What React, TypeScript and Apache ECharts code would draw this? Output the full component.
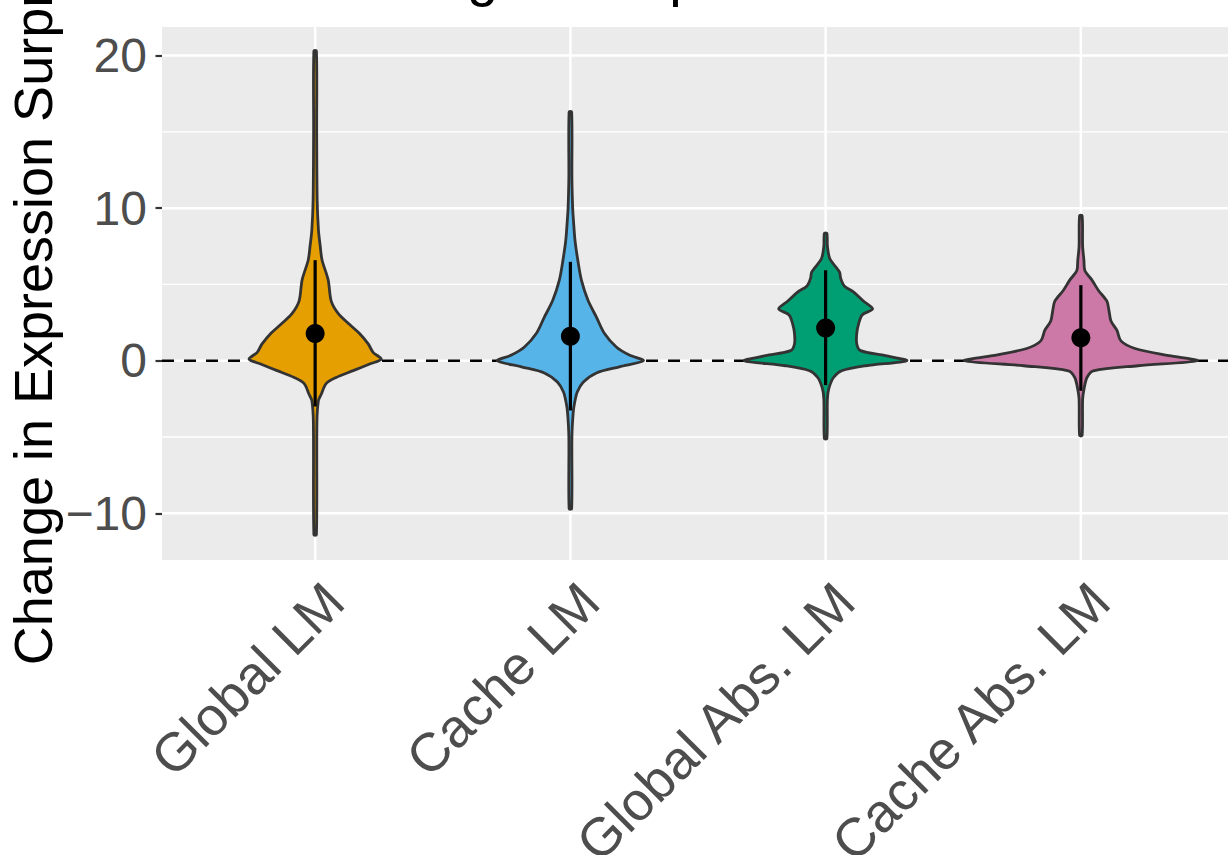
import React, { useEffect, useRef } from "react";
import * as echarts from "echarts";

const categories = ["Global LM", "Cache LM", "Global Abs. LM", "Cache Abs. LM"];
const fillColors = ["#E69F00", "#56B4E9", "#009E73", "#CC79A7"];

// violin outlines: y values (top to bottom) and half widths (x-axis units)
const globalY = [20.3, 15, 10.5, 8.55, 7.5, 6.6, 5.3, 3.9, 3.1, 2.4, 1.8, 1.1, 0.55, 0.1, -0.2, -0.65, -1.1, -1.5, -2.2, -2.6, -4, -11.4];
const globalHW = [0.005, 0.006, 0.008, 0.013, 0.02, 0.027, 0.051, 0.063, 0.09, 0.133, 0.173, 0.208, 0.227, 0.259, 0.216, 0.149, 0.082, 0.043, 0.024, 0.013, 0.007, 0.005];

const cacheY = [16.3, 12, 10, 9.2, 7.9, 6.6, 5.3, 3.96, 2.86, 1.8, 0.9, 0.37, 0.0, -0.4, -0.8, -1.4, -2.05, -2.8, -3.4, -5, -9.7];
const cacheHW = [0.005, 0.006, 0.009, 0.012, 0.018, 0.029, 0.043, 0.069, 0.102, 0.133, 0.18, 0.231, 0.286, 0.192, 0.102, 0.051, 0.027, 0.016, 0.011, 0.006, 0.005];

const globalAbsY = [8.35, 7.5, 6.7, 6.1, 5.8, 5.4, 4.9, 4.5, 3.9, 3.4, 3.0, 2.4, 1.8, 1.1, 0.66, 0.33, 0, -0.33, -0.66, -1.1, -1.8, -2.5, -5.1];
const globalAbsHW = [0.005, 0.007, 0.016, 0.042, 0.055, 0.059, 0.073, 0.11, 0.149, 0.184, 0.143, 0.129, 0.122, 0.122, 0.137, 0.235, 0.318, 0.157, 0.063, 0.031, 0.013, 0.007, 0.005];

const cacheAbsY = [9.5, 7.5, 6.6, 5.9, 5.3, 4.6, 3.9, 3.3, 2.6, 2.0, 1.3, 0.8, 0.33, 0, -0.33, -0.66, -1.1, -1.8, -2.5, -4.9];
const cacheAbsHW = [0.005, 0.007, 0.012, 0.016, 0.043, 0.069, 0.102, 0.11, 0.118, 0.141, 0.157, 0.212, 0.345, 0.455, 0.224, 0.049, 0.024, 0.013, 0.007, 0.005];

const meanValues = [1.79, 1.61, 2.15, 1.5];
const upperValues = [6.59, 6.48, 5.93, 4.95];
const lowerValues = [-3.0, -3.26, -1.6, -1.97];

const yTicks = [-10, 0, 10, 20];
const yMinorTicks = [-5, 5, 15];
const xPositions = [1, 2, 3, 4];
const X_MIN = 0.4;
const X_MAX = 4.6;
const Y_MIN = -13.06;
const Y_MAX = 21.87;

const violinY = [globalY, cacheY, globalAbsY, cacheAbsY];
const violinHW = [globalHW, cacheHW, globalAbsHW, cacheAbsHW];

const FONT = "'Liberation Sans', Arial, Helvetica, sans-serif";

const hLineSeries = (values: number[], z: number, style: any) => ({
  type: "custom",
  z,
  silent: true,
  clip: false,
  data: values.map((v) => [X_MIN, v]),
  encode: { x: 0, y: 1 },
  renderItem: (params: any, api: any) => {
    const p1 = api.coord([X_MIN, api.value(1)]);
    const p2 = api.coord([X_MAX, api.value(1)]);
    return {
      type: "line",
      shape: { x1: p1[0], y1: p1[1], x2: p2[0], y2: p2[1] },
      style,
    };
  },
});

const vLineSeries = (values: number[], z: number, style: any) => ({
  type: "custom",
  z,
  silent: true,
  clip: false,
  data: values.map((v) => [v, Y_MIN]),
  encode: { x: 0, y: 1 },
  renderItem: (params: any, api: any) => {
    const p1 = api.coord([api.value(0), Y_MIN]);
    const p2 = api.coord([api.value(0), Y_MAX]);
    return {
      type: "line",
      shape: { x1: p1[0], y1: p1[1], x2: p2[0], y2: p2[1] },
      style,
    };
  },
});

export default function App() {
  const ref = useRef<HTMLDivElement>(null);
  useEffect(() => {
    if (!ref.current) return;
    const chart = echarts.init(ref.current, undefined, { renderer: "svg" });
    const option: any = {
      animation: false,
      textStyle: { fontFamily: FONT },
      grid: {
        left: 162,
        top: 27,
        right: -6,
        bottom: 295,
        show: true,
        backgroundColor: "#EBEBEB",
        borderWidth: 0,
        containLabel: false,
        outerBoundsMode: "none",
      },
      graphic: [
        {
          type: "text",
          x: 333,
          y: -25,
          style: {
            text: "Change in Expression",
            fontSize: 56,
            fontFamily: FONT,
            fill: "#000000",
            align: "left",
            verticalAlign: "middle",
          },
          z: 10,
        },
        {
          type: "text",
          x: 33,
          y: 287,
          rotation: Math.PI / 2,
          style: {
            text: "Change in Expression Surprisal",
            fontSize: 54,
            fontFamily: FONT,
            fill: "#000000",
            align: "center",
            verticalAlign: "middle",
          },
          z: 10,
        },
      ],
      xAxis: {
        type: "value",
        min: X_MIN,
        max: X_MAX,
        axisLine: { show: false },
        splitLine: { show: false },
        axisTick: {
          show: true,
          length: 6.5,
          lineStyle: { color: "#333333", width: 2.2 },
          customValues: xPositions,
        },
        axisLabel: {
          show: true,
          customValues: xPositions,
          formatter: (v: number) => categories[Math.round(v) - 1] ?? "",
          rotate: 45,
          align: "right",
          verticalAlign: "top",
          margin: 13,
          fontSize: 54,
          color: "#4D4D4D",
          fontFamily: FONT,
        },
      },
      yAxis: {
        type: "value",
        min: Y_MIN,
        max: Y_MAX,
        axisLine: { show: false },
        splitLine: { show: false },
        axisTick: {
          show: true,
          length: 6.5,
          lineStyle: { color: "#333333", width: 2.2 },
          customValues: yTicks,
        },
        axisLabel: {
          show: true,
          customValues: yTicks,
          formatter: (v: number) => (v < 0 ? "\u2212" + Math.abs(v) : String(v)),
          margin: 15,
          fontSize: 48,
          color: "#4D4D4D",
          fontFamily: FONT,
        },
      },
      series: [
        hLineSeries(yMinorTicks, 1, { stroke: "#FFFFFF", lineWidth: 1.3 }),
        hLineSeries(yTicks, 1, { stroke: "#FFFFFF", lineWidth: 2.5 }),
        vLineSeries(xPositions, 1, { stroke: "#FFFFFF", lineWidth: 2.5 }),
        hLineSeries([0], 2, { stroke: "#000000", lineWidth: 2.6, lineDash: [12, 10] }),
        {
          type: "custom",
          z: 3,
          silent: true,
          data: xPositions.map((x) => [x, 0]),
          encode: { x: 0, y: 1 },
          renderItem: (params: any, api: any) => {
            const i = params.dataIndex;
            const cx = api.value(0);
            const ys = violinY[i];
            const hw = violinHW[i];
            const right = ys.map((y, k) => api.coord([cx + hw[k], y]));
            const left = ys.map((y, k) => api.coord([cx - hw[k], y])).reverse();
            return {
              type: "polygon",
              shape: { points: right.concat(left), smooth: 0.3 },
              style: { fill: fillColors[i], stroke: "#333333", lineWidth: 2.8 },
            };
          },
        },
        {
          type: "custom",
          z: 4,
          silent: true,
          data: xPositions.map((x, i) => [x, lowerValues[i], upperValues[i]]),
          encode: { x: 0, y: [1, 2] },
          renderItem: (params: any, api: any) => {
            const p1 = api.coord([api.value(0), api.value(1)]);
            const p2 = api.coord([api.value(0), api.value(2)]);
            return {
              type: "line",
              shape: { x1: p1[0], y1: p1[1], x2: p2[0], y2: p2[1] },
              style: { stroke: "#000000", lineWidth: 3.2 },
            };
          },
        },
        {
          type: "scatter",
          z: 5,
          silent: true,
          symbol: "circle",
          symbolSize: 19,
          itemStyle: { color: "#000000", opacity: 1 },
          data: xPositions.map((x, i) => [x, meanValues[i]]),
        },
      ],
    };
    chart.setOption(option);
    return () => chart.dispose();
  }, []);
  return (
    <div
      ref={ref}
      style={{ position: "absolute", left: 0, top: 0, width: 1228, height: 855, background: "#FFFFFF" }}
    />
  );
}
